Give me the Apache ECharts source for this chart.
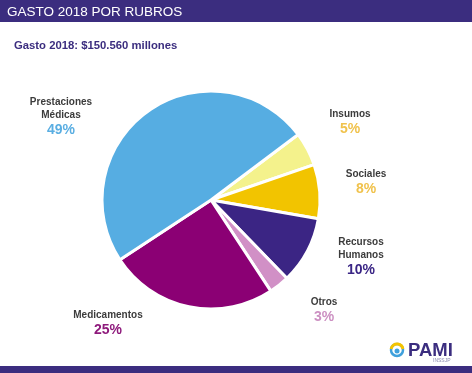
<!DOCTYPE html>
<html>
<head>
<meta charset="utf-8">
<script src="https://cdn.jsdelivr.net/npm/echarts@6/dist/echarts.min.js"></script>
<style>
html,body{margin:0;padding:0;background:#fff;}
#c{width:472px;height:373px;}
</style>
</head>
<body>
<div id="c"></div>
<script>
// Data
var categories = ['Insumos', 'Sociales', 'Recursos\nHumanos', 'Otros', 'Medicamentos', 'Prestaciones\nMédicas'];
var values = [5, 8, 10, 3, 25, 49];
var titleText = 'GASTO 2018 POR RUBROS';
var subtitleText = 'Gasto 2018: $150.560 millones';

// Styles
var sliceColors = ['#f4f28c', '#f2c400', '#3b2584', '#d190c6', '#8b0074', '#56ade2'];
var pctColors = ['#f0c24c', '#f0c24c', '#3a2585', '#cc90c2', '#8e1a7c', '#5aaee2'];
var labelPos = [[350, 123], [366, 183], [361, 257], [324, 311], [108, 324], [61, 117]];

var chart = echarts.init(document.getElementById('c'), null, {renderer: 'canvas'});
var font = 'Liberation Sans, Arial, sans-serif';

var data = values.map(function (v, i) {
  return {
    name: categories[i],
    value: v,
    itemStyle: {color: sliceColors[i]},
    label: {
      formatter: function () { return '{n|' + categories[i] + '}\n{p|' + v + '%}'; },
      rich: {
        n: {fontFamily: font, fontWeight: 'bold', fontSize: 10, color: '#3c3c3c', lineHeight: 13, align: 'center'},
        p: {fontFamily: font, fontWeight: 'bold', fontSize: 14, color: pctColors[i], lineHeight: 17, align: 'center'}
      }
    }
  };
});

chart.setOption({
  animation: false,
  backgroundColor: '#ffffff',
  graphic: [
    {type: 'rect', left: 0, top: 0, shape: {width: 472, height: 22}, style: {fill: '#3b2d7f'}},
    {type: 'rect', left: 0, top: 366, shape: {width: 472, height: 7}, style: {fill: '#3b2d7f'}},
    {type: 'text', left: 7, top: 5, style: {text: titleText, fill: '#ffffff', font: '13.5px ' + font}},
    {type: 'text', left: 14, top: 40, style: {text: subtitleText, fill: '#3b2d7f', font: 'bold 11.3px ' + font}},
    // logo
    {type: 'circle', shape: {cx: 397, cy: 350, r: 6}, style: {fill: 'none', stroke: '#3fa0dc', lineWidth: 2.5}},
    {type: 'arc', shape: {cx: 397, cy: 350, r: 6, startAngle: Math.PI * 1.05, endAngle: Math.PI * 1.95}, style: {fill: 'none', stroke: '#f5c400', lineWidth: 3}},
    {type: 'circle', shape: {cx: 397, cy: 351, r: 2.5}, style: {fill: '#3fa0dc'}},
    {type: 'text', left: 408, top: 341, style: {text: 'PAMI', fill: '#3b2d7f', font: 'bold 18.5px ' + font}},
    {type: 'text', left: 433, top: 358, style: {text: 'INSSJP', fill: '#8a8ab0', font: '5px ' + font}}
  ],
  series: [{
    type: 'pie',
    center: [211, 200],
    radius: [0, 109],
    startAngle: 36.9,
    clockwise: true,
    avoidLabelOverlap: false,
    itemStyle: {borderColor: '#ffffff', borderWidth: 3},
    label: {show: true, position: 'outside', align: 'center', verticalAlign: 'middle'},
    labelLine: {show: false},
    labelLayout: function (p) {
      var pos = labelPos[p.dataIndex];
      return {x: pos[0], y: pos[1], align: 'center', verticalAlign: 'middle', hideOverlap: false};
    },
    emphasis: {disabled: true},
    data: data
  }]
});
</script>
</body>
</html>
